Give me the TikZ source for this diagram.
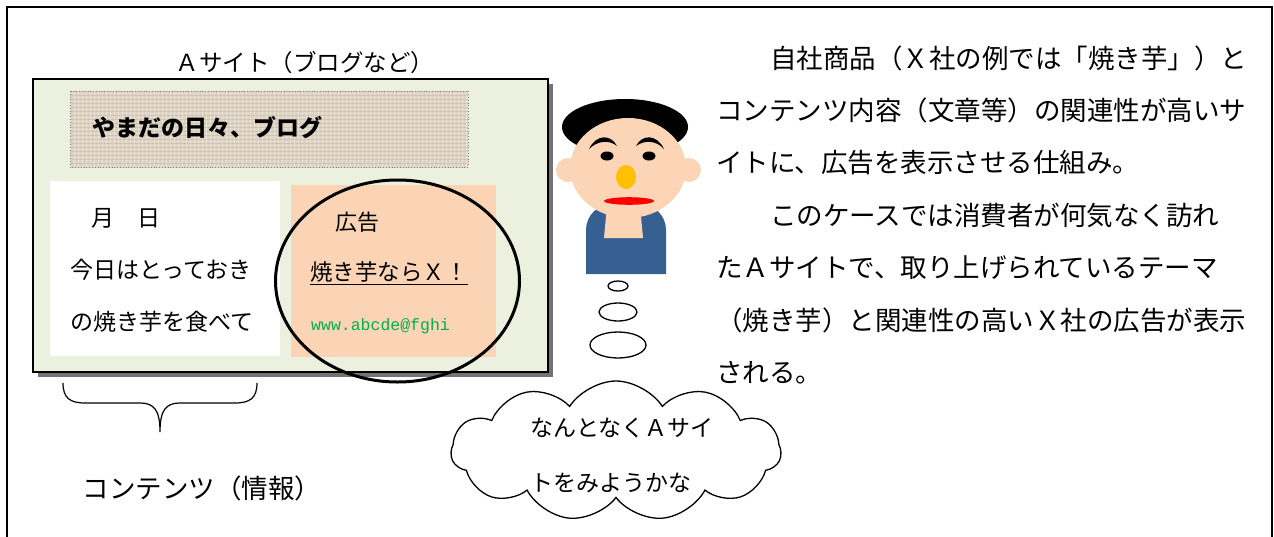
\documentclass[tikz,border=0pt]{standalone}
\usepackage{fontspec}
\setmainfont{Noto Sans CJK JP}
\newfontfamily\urlfont{Liberation Mono}
\usetikzlibrary{shapes.symbols}
\definecolor{sitegreen}{RGB}{235,241,222}
\definecolor{adpeach}{RGB}{250,212,180}
\definecolor{skin}{RGB}{251,213,181}
\definecolor{shirt}{RGB}{54,96,146}
\definecolor{nose}{RGB}{255,192,0}
\definecolor{linen}{RGB}{222,212,196}
\definecolor{urlgreen}{RGB}{0,176,80}
\tikzset{
  jtext/.style={inner sep=0pt, font=\fontsize{23}{23}\selectfont},
  para/.style={inner sep=0pt, anchor=west, font=\fontsize{26.5}{26.5}\selectfont},
  bubble/.style={draw, line width=1.3pt},
}
\begin{document}
\begin{tikzpicture}[x=1pt,y=-1pt]
\useasboundingbox (0,0) rectangle (1274,536);
% outer frame (bottom edge runs off the page)
\draw[line width=2pt] (7,545) -- (7,7) -- (1272,7) -- (1272,545);

% ---- site mock-up ----
\node[jtext, font=\fontsize{23.5}{23.5}\selectfont] (sitetitle) at (305,63) {Ａサイト（ブログなど）};
\fill[gray!90!black] (38,84) rectangle (553,377);
\draw[line width=1.6pt, fill=sitegreen] (33,79) rectangle (548,372);
\node (site) at (290.5,225.5) [minimum width=515, minimum height=293] {};

% blog header banner with woven texture
\fill[linen] (70,91) rectangle (468,167);
\begin{scope}
  \clip (70,91) rectangle (468,167);
  \foreach \i in {0,...,100} {\draw[white, opacity=0.35, line width=0.9pt] ({70+\i*4},91) -- ++(0,76);}
  \foreach \j in {0,...,19} {\draw[brown!60!gray, opacity=0.22, line width=0.9pt] (70,{91+\j*4}) -- ++(398,0);}
\end{scope}
\draw[gray, dotted, line width=0.8pt] (70,91) rectangle (468,167);
\node[jtext, anchor=west, font=\fontsize{23}{23}\selectfont\bfseries] (blogname) at (92,128) {やまだの日々、ブログ};

% article panel
\fill[white] (50,181) rectangle (280,356);
\node[jtext, anchor=west] (date) at (91,218) {月　日};
\node[jtext, anchor=west] (body1) at (70,270) {今日はとっておき};
\node[jtext, anchor=west] (body2) at (70,322) {の焼き芋を食べて};

% advertisement panel
\fill[adpeach] (291,185) rectangle (496,357);
\node[jtext, anchor=west, font=\fontsize{22}{22}\selectfont] (adhead) at (335,222) {広告};
\node[jtext, anchor=west, font=\fontsize{22.5}{22.5}\selectfont] (adcopy) at (310,273) {\underline{焼き芋ならＸ！}};
\node[inner sep=0pt, anchor=west, text=urlgreen, font=\urlfont\fontsize{16.5}{16.5}\selectfont] (adurl) at (311,326) {www.abcde@fghi};

% ring round the advertisement
\draw[line width=3pt] (397.5,281) ellipse [x radius=122, y radius=101];

% brace under the article panel
\draw[line width=1.2pt] (63,383) .. controls (63,398) and (70,403) .. (85,403) -- (140,403)
  .. controls (154,403) and (160,410) .. (160,432)
  .. controls (160,410) and (166,403) .. (180,403) -- (235,403)
  .. controls (250,403) and (257,398) .. (257,383);
\node[inner sep=0pt, font=\fontsize{26.5}{26.5}\selectfont] (contents) at (202,488) {コンテンツ（情報）};

% ---- the visitor ----
\fill[shirt] (586,274) -- (586,230) arc[start angle=180, end angle=270, radius=26] -- (640,204)
  arc[start angle=270, end angle=360, radius=26] -- (666,274) -- cycle;
\fill[skin] (604,238) -- (607,205) -- (640,205) -- (643,238) -- cycle;
\fill[black] (625,127) ellipse [x radius=63, y radius=28];
\fill[skin] (568,170) ellipse [x radius=12, y radius=12];
\fill[skin] (689,170) ellipse [x radius=12, y radius=12];
\fill[skin] (628,168) ellipse [x radius=58, y radius=50];
\fill (589,149) .. controls (596,134) and (611,134) .. (617,146)
  .. controls (610,140) and (598,140) .. cycle;
\fill (636,146) .. controls (642,134) and (657,134) .. (664,149)
  .. controls (656,140) and (644,140) .. cycle;
\fill[black] (607,156) ellipse [x radius=6.5, y radius=4.5];
\fill[black] (649,156) ellipse [x radius=6.5, y radius=4.5];
\fill[nose] (626,177) ellipse [x radius=10, y radius=12];
\fill[red] (629,201) ellipse [x radius=25, y radius=3.8];

% thought bubbles
\draw[bubble] (618,286) ellipse [x radius=10, y radius=5];
\draw[bubble] (618,312) ellipse [x radius=19, y radius=9];
\draw[bubble] (618,345) ellipse [x radius=28, y radius=13];
\node[cloud, draw, line width=1.3pt, cloud puffs=11, cloud puff arc=115, aspect=2.3,
      minimum width=330, minimum height=140, inner sep=0pt] (thought) at (616,451) {};
\node[jtext, anchor=west] (think1) at (530,428) {なんとなくＡサイ};
\node[jtext, anchor=west] (think2) at (530,483) {トをみようかな};

% ---- explanation ----
\node[para] (p1) at (770,58) {自社商品（Ｘ社の例では「焼き芋」）と};
\node[para] (p2) at (716,110.5) {コンテンツ内容（文章等）の関連性が高いサ};
\node[para] (p3) at (716,163) {イトに、広告を表示させる仕組み。};
\node[para] (p4) at (770,215.5) {このケースでは消費者が何気なく訪れ};
\node[para] (p5) at (716,268) {たＡサイトで、取り上げられているテーマ};
\node[para] (p6) at (716,320.5) {（焼き芋）と関連性の高いＸ社の広告が表示};
\node[para] (p7) at (716,373) {される。};
\end{tikzpicture}
\end{document}
